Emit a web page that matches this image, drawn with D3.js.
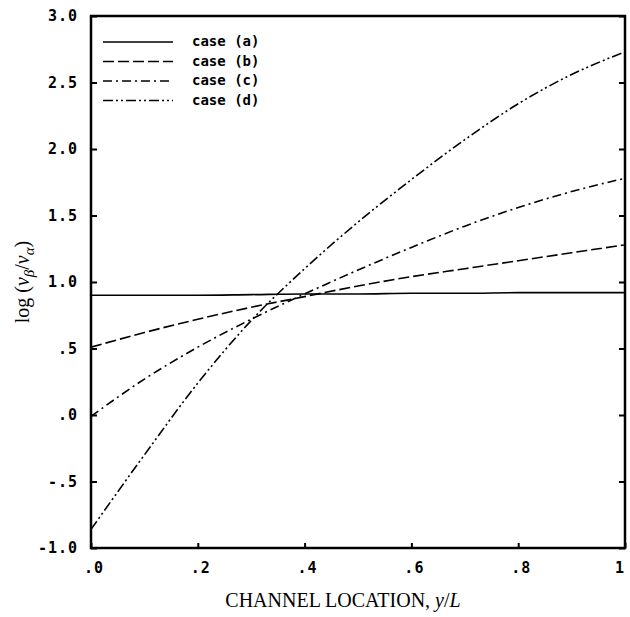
<!DOCTYPE html>
<html>
<head>
<meta charset="utf-8">
<script src="https://cdn.jsdelivr.net/npm/d3@7"></script>
<style>
  body { margin: 0; background: #fff; }
  .tick-label { font-family: "DejaVu Sans Mono", monospace; font-weight: bold; font-size: 15px; letter-spacing: 1px; }
  .legend text { font-family: "DejaVu Sans Mono", monospace; font-weight: bold; font-size: 14px; }
  .axis-title { font-family: "Liberation Serif", "DejaVu Serif", serif; font-size: 20px; }
</style>
</head>
<body>
<svg id="chart" width="630" height="617"></svg>
<script>
const WIDTH = 630;
const HEIGHT = 617;
const MARGIN = {left: 91, right: 5, top: 16, bottom: 69};

// channel location y/L
const xs = [0, 0.1, 0.2, 0.3, 0.4, 0.5, 0.6, 0.7, 0.8, 0.9, 1.0];
// log(nu_beta / nu_alpha) for each case
const caseA = [0.90, 0.90, 0.90, 0.905, 0.91, 0.91, 0.915, 0.915, 0.92, 0.92, 0.92];
const caseB = [0.51, 0.62, 0.72, 0.81, 0.89, 0.97, 1.04, 1.10, 1.16, 1.22, 1.28];
const caseC = [-0.01, 0.27, 0.51, 0.72, 0.91, 1.09, 1.26, 1.42, 1.56, 1.68, 1.78];
const caseD = [-0.86, -0.30, 0.24, 0.71, 1.10, 1.45, 1.77, 2.07, 2.34, 2.56, 2.73];

const caseNames = ["case (a)", "case (b)", "case (c)", "case (d)"];
const caseDash = [null, "11,4", "9,4,2,4", "10,3,2,3,2,3"];

const xTicks = [0, 0.2, 0.4, 0.6, 0.8, 1.0];
const xTickLabels = [".0", ".2", ".4", ".6", ".8", "1"];
const yTicks = [-1.0, -0.5, 0, 0.5, 1.0, 1.5, 2.0, 2.5, 3.0];
const yTickLabels = ["-1.0", "-.5", ".0", ".5", "1.0", "1.5", "2.0", "2.5", "3.0"];

const svg = d3.select("#chart");

const x = d3.scaleLinear().domain([0, 1]).range([MARGIN.left, WIDTH - MARGIN.right]);
const y = d3.scaleLinear().domain([-1, 3]).range([HEIGHT - MARGIN.bottom, MARGIN.top]);

// inward ticks on left, right and bottom
svg.append("g")
   .attr("transform", `translate(${x(0)},0)`)
   .call(d3.axisRight(y).tickValues(yTicks).tickSize(6).tickFormat(""))
   .call(g => g.select(".domain").remove());

svg.append("g")
   .attr("transform", `translate(${x(1)},0)`)
   .call(d3.axisLeft(y).tickValues(yTicks).tickSize(6).tickFormat(""))
   .call(g => g.select(".domain").remove());

svg.append("g")
   .attr("transform", `translate(0,${y(-1)})`)
   .call(d3.axisTop(x).tickValues(xTicks).tickSize(5).tickFormat(""))
   .call(g => g.select(".domain").remove());

svg.selectAll("line").attr("stroke", "#000").attr("stroke-width", 2);

// frame
svg.append("rect")
   .attr("x", x(0))
   .attr("y", y(3))
   .attr("width", x(1) - x(0))
   .attr("height", y(-1) - y(3))
   .attr("fill", "none")
   .attr("stroke", "#000")
   .attr("stroke-width", 2.5);

// tick labels
svg.selectAll(".ylab")
   .data(yTicks)
   .enter().append("text")
   .attr("class", "tick-label")
   .attr("x", x(0) - 13)
   .attr("y", d => y(d) + 5)
   .attr("text-anchor", "end")
   .text((d, i) => yTickLabels[i]);

svg.selectAll(".xlab")
   .data(xTicks)
   .enter().append("text")
   .attr("class", "tick-label")
   .attr("x", d => d === 1 ? x(d) - 5 : x(d) + 3)
   .attr("y", y(-1) + 25)
   .attr("text-anchor", "middle")
   .text((d, i) => xTickLabels[i]);

// axis titles
svg.append("text")
   .attr("class", "axis-title")
   .attr("x", 343)
   .attr("y", 607)
   .attr("text-anchor", "middle")
   .html('CHANNEL LOCATION, <tspan font-style="italic">y</tspan>/<tspan font-style="italic">L</tspan>');

svg.append("text")
   .attr("class", "axis-title")
   .attr("font-size", 23)
   .attr("transform", `translate(29,${(y(3) + y(-1)) / 2}) rotate(-90)`)
   .attr("text-anchor", "middle")
   .html('log (<tspan font-style="italic">ν</tspan><tspan font-style="italic" font-size="15" dy="5">β</tspan><tspan dy="-5">/</tspan><tspan font-style="italic">ν</tspan><tspan font-style="italic" font-size="15" dy="5">α</tspan><tspan dy="-5">)</tspan>');

// curves
const series = [caseA, caseB, caseC, caseD];
const line = d3.line()
               .x((d, i) => x(xs[i]))
               .y(d => y(d))
               .curve(d3.curveMonotoneX);

svg.append("g")
   .selectAll("path")
   .data(series)
   .enter().append("path")
   .attr("d", d => line(d))
   .attr("fill", "none")
   .attr("stroke", "#000")
   .attr("stroke-width", 1.6)
   .attr("stroke-dasharray", (d, i) => caseDash[i]);

// legend
const legend = svg.append("g").attr("class", "legend");
caseNames.forEach((name, i) => {
  let ly = 42 + i * 19.5;
  legend.append("line")
        .attr("x1", 103).attr("x2", 173)
        .attr("y1", ly).attr("y2", ly)
        .attr("stroke", "#000")
        .attr("stroke-width", 1.6)
        .attr("stroke-dasharray", caseDash[i]);
  legend.append("text")
        .attr("x", 192)
        .attr("y", ly + 4)
        .text(name);
});
</script>
</body>
</html>
